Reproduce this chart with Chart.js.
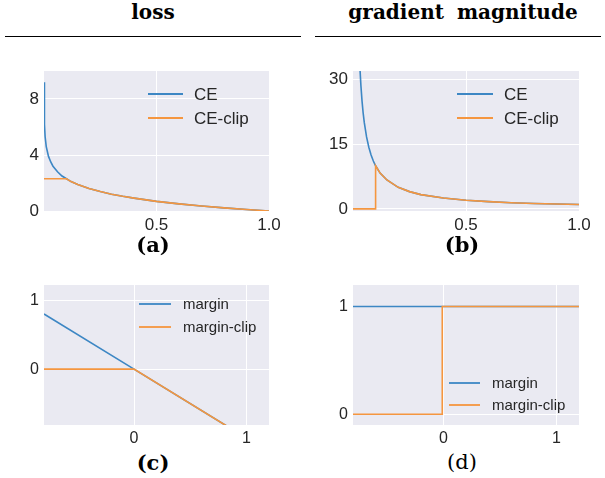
<!DOCTYPE html>
<html>
<head>
<meta charset="utf-8">
<script src="https://cdn.jsdelivr.net/npm/chart.js@4.4.1/dist/chart.umd.min.js"></script>
<style>
  body { margin: 0; background: #fff; }
  #page { position: relative; width: 605px; height: 478px; overflow: hidden; }
  canvas { position: absolute; }
  .title { position: absolute; top: 0; width: 300px; text-align: center; font: bold 20px "DejaVu Serif", serif; color: #000; word-spacing: 6px; }
  .rule { position: absolute; top: 36px; height: 1px; background: #000; }
  .cap { position: absolute; width: 120px; text-align: center; font: bold 21px "DejaVu Serif", serif; color: #000; }
</style>
</head>
<body>
<div id="page">
  <div class="title" style="left:3px;">loss</div>
  <div class="title" style="left:313px;">gradient magnitude</div>
  <div class="rule" style="left:5px;width:296px;"></div>
  <div class="rule" style="left:315px;width:286px;"></div>

  <canvas id="chartA" width="290" height="185" style="left:0;top:60px;"></canvas>
  <canvas id="chartB" width="290" height="185" style="left:310px;top:60px;"></canvas>
  <canvas id="chartC" width="290" height="175" style="left:0;top:275px;"></canvas>
  <canvas id="chartD" width="290" height="175" style="left:310px;top:275px;"></canvas>

  <div class="cap" style="left:93px;top:232px;">(a)</div>
  <div class="cap" style="left:402px;top:232px;">(b)</div>
  <div class="cap" style="left:93px;top:450px;">(c)</div>
  <div class="cap" style="left:402px;top:450px;font-weight:normal;">(d)</div>
</div>
<script>
// (a) loss
var lossP = [0.0001, 0.002, 0.005, 0.01, 0.02, 0.03, 0.04, 0.05, 0.06, 0.08, 0.1, 0.12, 0.15, 0.2, 0.25, 0.3, 0.35, 0.4, 0.5, 0.6, 0.7, 0.8, 0.9, 1.0];
var lossCE = [9.2, 6.2, 5.3, 4.6, 3.9, 3.5, 3.2, 3.0, 2.8, 2.5, 2.3, 2.1, 1.9, 1.6, 1.39, 1.2, 1.05, 0.92, 0.69, 0.51, 0.36, 0.22, 0.11, 0];
var lossClip = [2.3, 2.3, 2.3, 2.3, 2.3, 2.3, 2.3, 2.3, 2.3, 2.3, 2.3, 2.1, 1.9, 1.6, 1.39, 1.2, 1.05, 0.92, 0.69, 0.51, 0.36, 0.22, 0.11, 0];

// (b) gradient magnitude
var gradP = [0.03, 0.035, 0.04, 0.045, 0.05, 0.06, 0.07, 0.08, 0.09, 0.1, 0.12, 0.15, 0.2, 0.25, 0.3, 0.4, 0.5, 0.6, 0.7, 0.8, 0.9, 1.0];
var gradCE = [33.3, 28.6, 25, 22.2, 20, 16.7, 14.3, 12.5, 11.1, 10, 8.3, 6.7, 5, 4, 3.3, 2.5, 2, 1.67, 1.43, 1.25, 1.11, 1];
var gradClipP = [0, 0.1, 0.1, 0.12, 0.15, 0.2, 0.25, 0.3, 0.4, 0.5, 0.6, 0.7, 0.8, 0.9, 1.0];
var gradClip = [0, 0, 10, 8.3, 6.7, 5, 4, 3.3, 2.5, 2, 1.67, 1.43, 1.25, 1.11, 1];

// (c) margin loss
var marginX = [-0.8, 0, 1.2];
var marginLoss = [0.8, 0, -1.2];
var marginClipLoss = [0, 0, -1.2];

// (d) margin gradient
var marginGradX = [-0.8, -0.01, -0.01, 1.2];
var marginGrad = [1, 1, 1, 1];
var marginClipGrad = [0, 0, 1, 1];

var blue = "#3d87c4";
var orange = "#f5963f";
var textColor = "#262626";

function pts(xs, ys) {
  return xs.map(function(x, i) { return { x: x, y: ys[i] }; });
}

// legend drawn inside the plot, like the matplotlib one
var insideLegend = {
  id: "insideLegend",
  afterDatasetsDraw: function(chart, args, opts) {
    var ctx = chart.ctx, a = chart.chartArea;
    ctx.save();
    ctx.font = opts.font;
    ctx.textBaseline = "middle";
    chart.data.datasets.forEach(function(ds, i) {
      var x = a.left + opts.x;
      var y = a.top + opts.y + i * opts.gap;
      ctx.strokeStyle = ds.borderColor;
      ctx.lineWidth = 1.8;
      ctx.beginPath();
      ctx.moveTo(x, y);
      ctx.lineTo(x + opts.len, y);
      ctx.stroke();
      ctx.fillStyle = textColor;
      ctx.fillText(ds.label, x + opts.len + opts.textGap, y + 1);
    });
    ctx.restore();
  }
};

var bgPlugin = {
  id: "plotBg",
  beforeDraw: function(chart) {
    var a = chart.chartArea, ctx = chart.ctx;
    ctx.save();
    ctx.fillStyle = "#eaeaf2";
    ctx.fillRect(a.left, a.top, a.right - a.left, a.bottom - a.top);
    ctx.restore();
  }
};

function makeChart(id, c) {
  var ctx = document.getElementById(id).getContext("2d");
  return new Chart(ctx, {
    type: "line",
    data: {
      datasets: [
        { label: c.labels[0], data: c.first, borderColor: blue, borderWidth: 1.6, pointRadius: 0, tension: 0, order: 2 },
        { label: c.labels[1], data: c.second, borderColor: orange, borderWidth: 1.6, pointRadius: 0, tension: 0, order: 1 }
      ]
    },
    options: {
      responsive: false,
      animation: false,
      layout: { padding: { top: c.padTop, right: c.padRight, left: 0, bottom: 0 } },
      plugins: {
        legend: { display: false },
        tooltip: { enabled: false },
        insideLegend: c.legend
      },
      scales: {
        x: {
          type: "linear",
          min: c.xMin, max: c.xMax,
          afterBuildTicks: function(s) { s.ticks = c.xTicks.map(function(v) { return { value: v }; }); },
          afterFit: function(s) { s.height = c.xAxisH; s.paddingLeft = 0; s.paddingRight = 0; },
          grid: { color: "#ffffff", lineWidth: 1, drawTicks: false },
          border: { display: false },
          ticks: {
            color: textColor, padding: 4, maxRotation: 0,
            font: { family: "Liberation Sans", size: c.fontSize },
            callback: function(v) { return c.xFmt(v); }
          }
        },
        y: {
          type: "linear",
          min: c.yMin, max: c.yMax,
          afterBuildTicks: function(s) { s.ticks = c.yTicks.map(function(v) { return { value: v }; }); },
          afterFit: function(s) { s.width = c.yAxisW; s.paddingTop = 0; s.paddingBottom = 0; },
          grid: { color: "#ffffff", lineWidth: 1, drawTicks: false },
          border: { display: false },
          ticks: {
            color: textColor, padding: 5,
            font: { family: "Liberation Sans", size: c.fontSize },
            callback: function(v) { return String(v); }
          }
        }
      }
    },
    plugins: [bgPlugin, insideLegend]
  });
}

makeChart("chartA", {
  labels: ["CE", "CE-clip"],
  first: pts(lossP, lossCE), second: pts(lossP, lossClip),
  xMin: 0, xMax: 1, yMin: 0, yMax: 10,
  xTicks: [0.5, 1.0], yTicks: [0, 4, 8],
  xFmt: function(v) { return v.toFixed(1); },
  padTop: 11, padRight: 21, xAxisH: 34, yAxisW: 44, fontSize: 17,
  legend: { x: 104, y: 23, gap: 24, len: 35, textGap: 11, font: "17px 'Liberation Sans'" }
});

makeChart("chartB", {
  labels: ["CE", "CE-clip"],
  first: pts(gradP, gradCE), second: pts(gradClipP, gradClip),
  xMin: 0, xMax: 1, yMin: -0.5, yMax: 32,
  xTicks: [0.5, 1.0], yTicks: [0, 15, 30],
  xFmt: function(v) { return v.toFixed(1); },
  padTop: 11, padRight: 21, xAxisH: 34, yAxisW: 43, fontSize: 17,
  legend: { x: 104, y: 23, gap: 24, len: 36, textGap: 11, font: "17px 'Liberation Sans'" }
});

makeChart("chartC", {
  labels: ["margin", "margin-clip"],
  first: pts(marginX, marginLoss), second: pts(marginX, marginClipLoss),
  xMin: -0.8, xMax: 1.2, yMin: -0.81, yMax: 1.22,
  xTicks: [0, 1], yTicks: [0, 1],
  xFmt: function(v) { return String(v); },
  padTop: 10, padRight: 21, xAxisH: 25, yAxisW: 44, fontSize: 16,
  legend: { x: 95, y: 19, gap: 23, len: 32, textGap: 12, font: "15px 'Liberation Sans'" }
});

makeChart("chartD", {
  labels: ["margin", "margin-clip"],
  first: pts(marginGradX, marginGrad), second: pts(marginGradX, marginClipGrad),
  xMin: -0.8, xMax: 1.2, yMin: -0.1, yMax: 1.2,
  xTicks: [0, 1], yTicks: [0, 1],
  xFmt: function(v) { return String(v); },
  padTop: 10, padRight: 21, xAxisH: 25, yAxisW: 43, fontSize: 16,
  legend: { x: 96, y: 98, gap: 22, len: 31, textGap: 12, font: "15px 'Liberation Sans'" }
});
</script>
</body>
</html>
